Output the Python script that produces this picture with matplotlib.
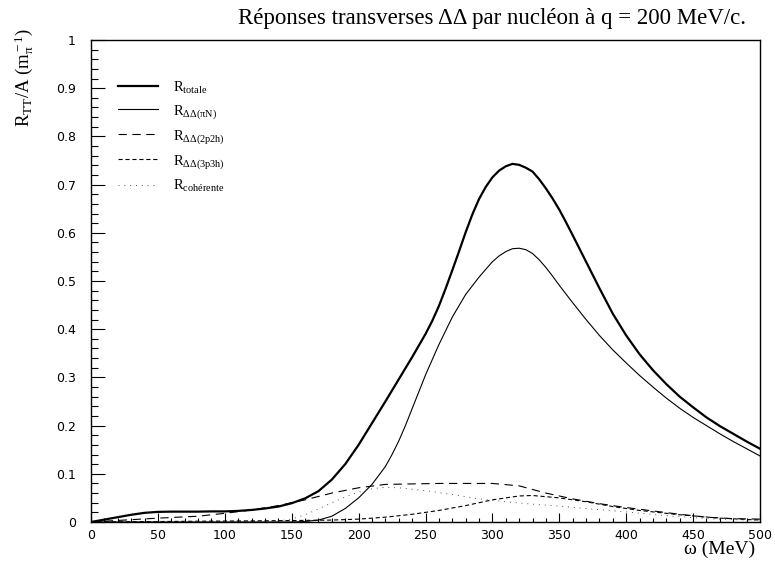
import numpy as np
import matplotlib
matplotlib.use("Agg")
import matplotlib.pyplot as plt
from matplotlib.ticker import MultipleLocator

plt.rcParams['mathtext.fontset'] = 'custom'
plt.rcParams['mathtext.rm'] = 'Liberation Serif'
plt.rcParams['mathtext.it'] = 'Liberation Serif:italic'
plt.rcParams['lines.scale_dashes'] = False

# values (omega in MeV, R in m_pi^-1)
omega_tot = [0, 10, 20, 30, 40, 50, 60, 70, 80, 90, 100, 110, 120, 130, 140, 150, 160, 170, 180, 190,
             200, 210, 220, 230, 240, 250, 255, 260, 265, 270, 275, 280, 285, 290, 295, 300, 305, 310,
             315, 320, 325, 330, 335, 340, 345, 350, 355, 360, 370, 380, 390, 400, 410, 420, 430, 440,
             450, 460, 470, 480, 490, 500]
r_tot = [0, 0.005, 0.010, 0.015, 0.019, 0.021, 0.0215, 0.0215, 0.0215, 0.022, 0.022, 0.023, 0.025,
         0.028, 0.032, 0.039, 0.049, 0.064, 0.088, 0.12, 0.16, 0.205, 0.25, 0.296, 0.342, 0.39, 0.417,
         0.448, 0.484, 0.522, 0.561, 0.601, 0.638, 0.670, 0.695, 0.715, 0.729, 0.738, 0.743, 0.741,
         0.735, 0.727, 0.711, 0.692, 0.671, 0.648, 0.622, 0.595, 0.54, 0.485, 0.432, 0.387, 0.348,
         0.315, 0.286, 0.26, 0.238, 0.217, 0.199, 0.183, 0.167, 0.152]

omega_pin = [0, 150, 160, 170, 180, 190, 200, 210, 220, 225, 230, 235, 240, 250, 260, 270, 280, 290,
             300, 305, 310, 315, 320, 325, 330, 335, 340, 345, 350, 360, 370, 380, 390, 400, 410, 420,
             430, 440, 450, 460, 470, 480, 490, 500]
r_pin = [0, 0, 0.001, 0.004, 0.012, 0.028, 0.05, 0.078, 0.115, 0.14, 0.168, 0.2, 0.235, 0.305, 0.368,
         0.425, 0.472, 0.508, 0.54, 0.552, 0.561, 0.567, 0.568, 0.565, 0.557, 0.544, 0.528, 0.51, 0.491,
         0.455, 0.42, 0.387, 0.357, 0.33, 0.304, 0.28, 0.257, 0.236, 0.217, 0.2, 0.183, 0.167, 0.152,
         0.137]

omega_2p2h = [0, 50, 80, 100, 120, 140, 160, 180, 200, 220, 260, 300, 320, 340, 360, 380, 400, 420,
              440, 460, 480, 500]
r_2p2h = [0, 0.008, 0.012, 0.018, 0.025, 0.034, 0.046, 0.06, 0.071, 0.078, 0.08, 0.08, 0.075, 0.06,
          0.048, 0.038, 0.03, 0.023, 0.016, 0.01, 0.007, 0.006]

omega_3p3h = [0, 50, 100, 150, 180, 200, 220, 240, 260, 280, 300, 320, 330, 350, 370, 390, 410, 440,
              470, 500]
r_3p3h = [0, 0.001, 0.002, 0.003, 0.004, 0.006, 0.01, 0.016, 0.024, 0.034, 0.046, 0.054, 0.055, 0.05,
          0.042, 0.032, 0.024, 0.015, 0.008, 0.004]

omega_coh = [0, 130, 140, 150, 160, 170, 180, 190, 200, 210, 220, 230, 250, 270, 290, 310, 330, 350,
             370, 400, 430, 460, 500]
r_coh = [0, 0, 0.002, 0.006, 0.015, 0.027, 0.04, 0.052, 0.062, 0.069, 0.072, 0.071, 0.065, 0.057,
         0.048, 0.042, 0.037, 0.033, 0.028, 0.021, 0.013, 0.007, 0.003]

y_ticklabels = ['0', '0.1', '0.2', '0.3', '0.4', '0.5', '0.6', '0.7', '0.8', '0.9', '1']

fig = plt.figure(figsize=(7.75, 5.65), dpi=100)
ax = fig.add_axes([91 / 775, 43 / 565, 669 / 775, 482 / 565])

ax.plot(omega_tot, r_tot, color='black', lw=1.6, solid_joinstyle='round', label=r'R$_{\rm totale}$')
ax.plot(omega_pin, r_pin, color='black', lw=0.8, solid_joinstyle='round', label=r'R$_{\rm ΔΔ(πN)}$')
ax.plot(omega_2p2h, r_2p2h, color='black', lw=0.8, linestyle=(0, (6, 4)), label=r'R$_{\rm ΔΔ(2p2h)}$')
ax.plot(omega_3p3h, r_3p3h, color='black', lw=0.8, linestyle=(0, (3, 2)), label=r'R$_{\rm ΔΔ(3p3h)}$')
ax.plot(omega_coh, r_coh, color='#555555', lw=0.7, linestyle=(0, (0.7, 3.5)), label=r'R$_{\rm cohérente}$')

ax.set_xlim(0, 500)
ax.set_ylim(0, 1)
ax.xaxis.set_major_locator(MultipleLocator(50))
ax.xaxis.set_minor_locator(MultipleLocator(10))
ax.set_yticks(np.arange(0, 1.01, 0.1))
ax.set_yticklabels(y_ticklabels)
ax.yaxis.set_minor_locator(MultipleLocator(0.02))

ax.tick_params(axis='x', which='major', direction='in', length=6.5, width=0.8, pad=5, labelsize=9)
ax.tick_params(axis='x', which='minor', direction='in', length=3.2, width=0.8)
ax.tick_params(axis='y', which='major', direction='in', length=10, width=0.8, pad=11, labelsize=9)
ax.tick_params(axis='y', which='minor', direction='in', length=5, width=0.8)
for lab in ax.get_xticklabels() + ax.get_yticklabels():
    lab.set_fontfamily('DejaVu Sans')
for s in ax.spines.values():
    s.set_linewidth(1.0)

leg = ax.legend(loc='upper left', bbox_to_anchor=(0.0317, 0.93), frameon=False,
                prop={'family': 'Liberation Serif', 'size': 10.5},
                handlelength=2.74, handletextpad=1.0, labelspacing=0.5, borderaxespad=0)

fig.text(0.635, 0.968, 'Réponses transverses ΔΔ par nucléon à q = 200 MeV/c.',
         ha='center', va='center', family='Liberation Serif', fontsize=16.5)
ax.text(-0.099, 1.025, r'R$_{\rm TT}$/A (m$_{\rm π}^{\rm -1}$)', rotation=90, ha='center', va='top',
        transform=ax.transAxes, family='Liberation Serif', fontsize=13.5)
ax.text(0.9925, -0.039, 'ω (MeV)', ha='right', va='top', transform=ax.transAxes,
        family='Liberation Serif', fontsize=14)

fig.savefig('out.png', dpi=100)
